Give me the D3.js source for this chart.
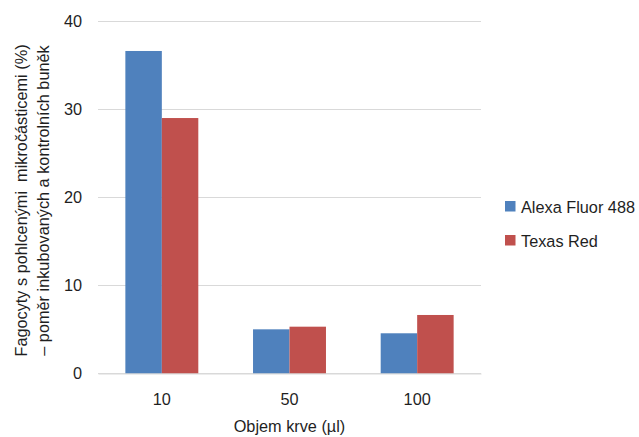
<!DOCTYPE html>
<html>
<head>
<meta charset="utf-8">
<script src="https://cdn.jsdelivr.net/npm/d3@7"></script>
<style>
  html, body { margin: 0; padding: 0; background: #fff; }
  svg text { font-family: "Liberation Sans", Arial, sans-serif; fill: #1f1f1f; }
</style>
</head>
<body>
<svg id="chart" width="639" height="437"></svg>
<script>
// Blood volume categories and the two fluorophore series
const categories = ["10", "50", "100"];
const seriesNames = ["Alexa Fluor 488", "Texas Red"];
const alexaValues = [36.65, 5.02, 4.57];
const texasValues = [29.03, 5.32, 6.65];
const yTicks = [0, 10, 20, 30, 40];
const colors = ["#4F81BD", "#C0504D"];

const svg = d3.select("#chart");
const margin = { left: 98, right: 158, top: 21.5, bottom: 63.5 };
const W = 639, H = 437;
const plotW = W - margin.left - margin.right;
const plotH = H - margin.top - margin.bottom;
const fontSize = "16.3px";

const g = svg.append("g").attr("transform", `translate(${margin.left},${margin.top})`);

const x = d3.scaleBand().domain(categories).range([0, plotW]).paddingInner(0.4286).paddingOuter(0.2143);
const x1 = d3.scaleBand().domain(seriesNames).range([0, x.bandwidth()]);
const y = d3.scaleLinear().domain([0, 40]).range([plotH, 0]);

// Horizontal gridlines
g.append("g")
  .selectAll("line")
  .data(yTicks)
  .join("line")
  .attr("x1", 0).attr("x2", plotW)
  .attr("y1", d => y(d)).attr("y2", d => y(d))
  .attr("stroke", "#D9D9D9").attr("stroke-width", 1.2);

// Y axis labels
const yAxis = d3.axisLeft(y).tickValues(yTicks).tickSize(0).tickPadding(16);
g.append("g").call(yAxis)
  .call(s => s.select(".domain").remove())
  .selectAll("text")
  .style("font-size", fontSize)
  .attr("fill", "#1f1f1f");

// Bars
const rows = categories.map((c, i) => ({ cat: c, vals: [alexaValues[i], texasValues[i]] }));
const groups = g.append("g").selectAll("g")
  .data(rows).join("g")
  .attr("transform", d => `translate(${x(d.cat)},0)`);
groups.selectAll("rect")
  .data(d => d.vals.map((v, j) => ({ name: seriesNames[j], v, j })))
  .join("rect")
  .attr("x", d => x1(d.name))
  .attr("width", x1.bandwidth())
  .attr("y", d => y(d.v))
  .attr("height", d => y(0) - y(d.v))
  .attr("fill", d => colors[d.j]);

// X axis
const xAxis = d3.axisBottom(x).tickSize(0).tickPadding(20);
g.append("g").attr("transform", `translate(0,${plotH})`).call(xAxis)
  .call(s => s.select(".domain").attr("stroke", "#D9D9D9").attr("stroke-width", 1.2))
  .selectAll("text")
  .style("font-size", fontSize)
  .attr("fill", "#1f1f1f");

// Axis titles
svg.append("text")
  .attr("x", margin.left + plotW / 2)
  .attr("y", 432)
  .attr("text-anchor", "middle")
  .style("font-size", fontSize)
  .text("Objem krve (µl)");

const yTitle = svg.append("text")
  .attr("transform", `translate(0,${margin.top + plotH / 2 + 3}) rotate(-90)`)
  .attr("text-anchor", "middle")
  .style("font-size", fontSize)
  .style("white-space", "pre");
yTitle.append("tspan").attr("x", 0).attr("y", 27).text("Fagocyty s pohlcenými  mikročásticemi (%)");
yTitle.append("tspan").attr("x", 0).attr("y", 49).text("– poměr inkubovaných a kontrolních buněk");

// Legend
const legend = svg.append("g").attr("transform", "translate(505,201)");
seriesNames.forEach((name, i) => {
  const row = legend.append("g").attr("transform", `translate(0,${i * 34})`);
  row.append("rect").attr("width", 10.5).attr("height", 10.5).attr("fill", colors[i]);
  row.append("text").attr("x", 16).attr("y", 11.5).style("font-size", fontSize).text(name);
});
</script>
</body>
</html>
